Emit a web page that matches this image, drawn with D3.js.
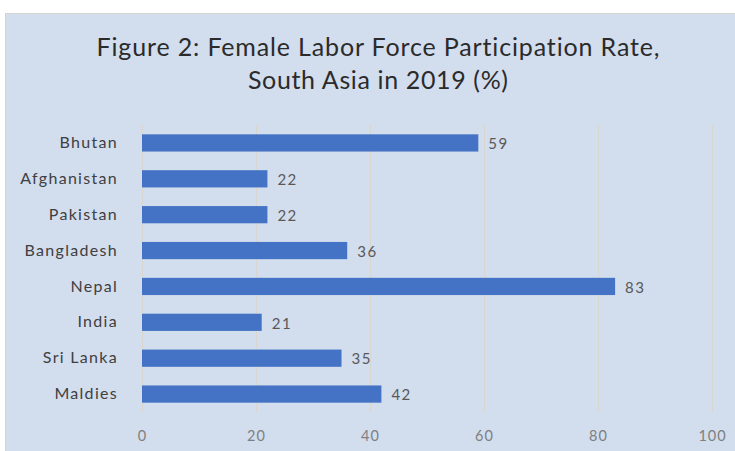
<!DOCTYPE html>
<html>
<head>
<meta charset="utf-8">
<script src="https://cdn.jsdelivr.net/npm/d3@7.9.0/dist/d3.min.js"></script>
<style>
  body { margin: 0; background: #fff; }
  svg { display: block; font-family: Lato, "Open Sans", sans-serif; font-variant-ligatures: none; }
</style>
</head>
<body>
<svg id="chart"></svg>
<script>
// data
const countries = ["Bhutan", "Afghanistan", "Pakistan", "Bangladesh", "Nepal", "India", "Sri Lanka", "Maldies"];
const rates = [59, 22, 22, 36, 83, 21, 35, 42];
const xTicks = [0, 20, 40, 60, 80, 100];
const titleLines = ["Figure 2: Female Labor Force Participation Rate,", "South Asia in 2019 (%)"];
const titleWidths = [563, 260];

const width = 735, height = 451;
const svg = d3.select("#chart").attr("width", width).attr("height", height);

// chart area background
svg.append("rect")
  .attr("x", 5.5).attr("y", 13.5)
  .attr("width", width).attr("height", height)
  .attr("fill", "#d2ddee")
  .attr("stroke", "#d4d4d4");

const x = d3.scaleLinear().domain([0, 100]).range([142, 712]);
const y = d3.scaleBand().domain(countries).range([125, 412]).paddingInner(0.52).paddingOuter(0.26);

// gridlines
svg.append("g")
  .selectAll("line")
  .data(xTicks)
  .join("line")
  .attr("x1", d => x(d) + 0.5).attr("x2", d => x(d) + 0.5)
  .attr("y1", 125).attr("y2", 412)
  .attr("stroke", "#d9d6cf")
  .attr("stroke-width", 1);

// bars
svg.append("g")
  .selectAll("rect")
  .data(countries)
  .join("rect")
  .attr("x", x(0))
  .attr("y", d => y(d))
  .attr("width", (d, i) => x(rates[i]) - x(0))
  .attr("height", y.bandwidth())
  .attr("fill", "#4472c4");

// value labels
svg.append("g")
  .selectAll("text")
  .data(countries)
  .join("text")
  .attr("x", (d, i) => x(rates[i]) + 10)
  .attr("y", d => y(d) + y.bandwidth() / 2 + 1)
  .attr("dy", "0.35em")
  .attr("fill", "#595959")
  .attr("font-size", 15)
  .attr("letter-spacing", 1.5)
  .text((d, i) => rates[i]);

// category axis
const yAxis = svg.append("g")
  .attr("transform", "translate(118,0)")
  .call(d3.axisLeft(y).tickSize(0).tickPadding(0));
yAxis.select(".domain").remove();
yAxis.selectAll("text")
  .attr("font-family", "Lato, 'Open Sans', sans-serif")
  .attr("font-size", 16)
  .attr("letter-spacing", 1.3)
  .attr("fill", "#404040");

// value axis
const xAxis = svg.append("g")
  .attr("transform", "translate(0,431)")
  .call(d3.axisBottom(x).tickValues(xTicks).tickSize(0).tickPadding(0));
xAxis.select(".domain").remove();
xAxis.selectAll("text")
  .attr("font-family", "Lato, 'Open Sans', sans-serif")
  .attr("font-size", 14.5)
  .attr("letter-spacing", 1)
  .attr("fill", "#7f7f7f");

// title
svg.append("g")
  .selectAll("text")
  .data(titleLines)
  .join("text")
  .attr("x", 378)
  .attr("y", (d, i) => 56 + i * 33)
  .attr("text-anchor", "middle")
  .attr("font-size", 25)
  .attr("textLength", (d, i) => titleWidths[i])
  .attr("lengthAdjust", "spacing")
  .attr("fill", "#2b2b2b")
  .text(d => d);
</script>
</body>
</html>
